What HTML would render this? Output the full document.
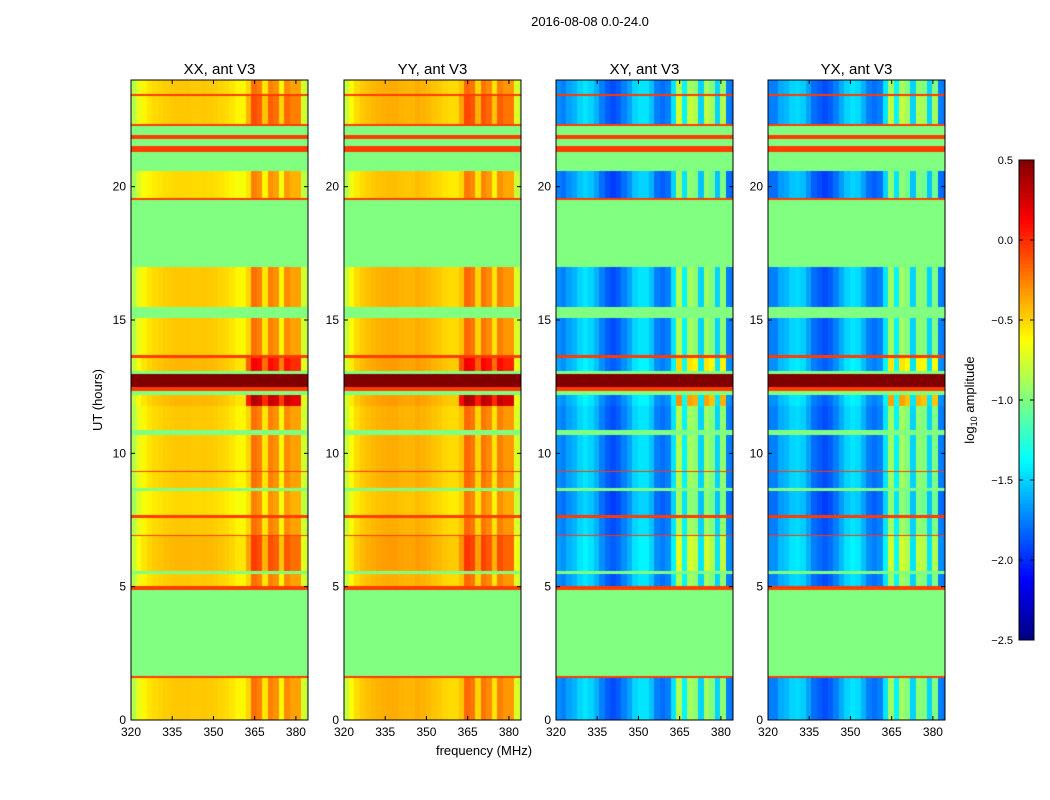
<!DOCTYPE html>
<html><head><meta charset="utf-8"><style>
body{margin:0;background:#fff;width:1050px;height:800px;overflow:hidden;font-family:"Liberation Sans",sans-serif}
svg text{font-family:"Liberation Sans",sans-serif}
</style></head><body>
<svg id="chart" width="1050" height="800" xmlns="http://www.w3.org/2000/svg">
<text x="590" y="26" font-size="13" text-anchor="middle">2016-08-08 0.0-24.0</text>
<text x="484" y="755" font-size="13" text-anchor="middle">frequency (MHz)</text>
<text x="102" y="400" font-size="13" text-anchor="middle" transform="rotate(-90 102 400)">UT (hours)</text>
<text x="974" y="400" font-size="13" text-anchor="middle" transform="rotate(-90 974 400)">log<tspan font-size="9" dy="3">10</tspan><tspan dy="-3"> amplitude</tspan></text>
<g id="panels"></g>
<g id="cbar"></g>
</svg>
<canvas id="cv" width="1050" height="800" style="position:absolute;left:0;top:0;pointer-events:none"></canvas>
<script>
const panelTitles=["XX, ant V3","YY, ant V3","XY, ant V3","YX, ant V3"];
const xTicks=[320,335,350,365,380];
const yTicks=[0,5,10,15,20];
const cbarTicks=[0.5,0.0,-0.5,-1.0,-1.5,-2.0,-2.5];
const freqBins=[320,322,324,326,328,330,332,334,336,338,340,342,344,346,348,350,352,354,356,358,360,362,364,366,368,370,372,374,376,378,380,382,384];
const profXX=[-0.85,-0.7,-0.6,-0.55,-0.52,-0.5,-0.48,-0.47,-0.46,-0.46,-0.46,-0.47,-0.47,-0.46,-0.47,-0.48,-0.5,-0.52,-0.55,-0.6,-0.6,-0.5,-0.2,-0.25,-0.55,-0.25,-0.3,-0.6,-0.28,-0.35,-0.35,-0.75,-0.85];
const profYY=[-0.8,-0.62,-0.52,-0.47,-0.44,-0.42,-0.4,-0.39,-0.38,-0.38,-0.4,-0.41,-0.41,-0.38,-0.4,-0.42,-0.45,-0.47,-0.5,-0.52,-0.52,-0.45,-0.18,-0.22,-0.5,-0.22,-0.28,-0.55,-0.25,-0.32,-0.32,-0.72,-0.85];
const profXY=[-1.7,-1.75,-1.65,-1.6,-1.5,-1.45,-1.5,-1.6,-1.75,-1.85,-1.9,-1.85,-1.75,-1.65,-1.5,-1.45,-1.45,-1.55,-1.75,-1.8,-1.75,-1.45,-0.85,-1.4,-0.9,-0.95,-1.5,-0.9,-1.0,-1.5,-0.95,-1.75,-1.8];
const profYX=[-1.75,-1.75,-1.62,-1.58,-1.5,-1.48,-1.52,-1.65,-1.8,-1.85,-1.9,-1.85,-1.75,-1.62,-1.5,-1.45,-1.48,-1.6,-1.75,-1.8,-1.75,-1.45,-0.9,-1.4,-0.9,-1.0,-1.5,-0.95,-1.0,-1.5,-1.0,-1.75,-1.8];
const segStart=[0,1.6,1.65,4.9,5.05,5.5,5.6,6.9,6.95,7.6,7.7,8.6,8.7,9.3,9.35,10.7,10.9,11.8,12.2,12.35,12.5,13.0,13.1,13.6,13.7,15.1,15.5,17.0,19.5,19.6,20.6,21.3,21.55,21.8,21.95,22.3,22.35,23.4,23.5];
const segEnd=[1.6,1.65,4.9,5.05,5.5,5.6,6.9,6.95,7.6,7.7,8.6,8.7,9.3,9.35,10.7,10.9,11.8,12.2,12.35,12.5,13.0,13.1,13.6,13.7,15.1,15.5,17.0,19.5,19.6,20.6,21.3,21.55,21.8,21.95,22.3,22.35,23.4,23.5,24];
const segKind=["d","o","f","o","d","f","d","o","d","o","d","f","d","o","d","f","d","d","f","o","r","f","d","o","d","f","d","f","o","d","f","o","f","o","f","o","d","o","d"];
const segOff=[0,0,0,0,0,0,0.05,0,0,0,-0.05,0,0,0,0,0,0,0.05,0,0,0,0,0.05,0,0,0,0,0,0,-0.05,0,0,0,0,0,0,0,0,0];
const segRfi=[0,0,0,0,0,0,0.1,0,0,0,0,0,0,0,0,0,0,0.5,0,0,0,0,0.3,0,0,0,0,0,0,0,0,0,0,0,0,0,0.1,0,0];
const profiles=[profXX,profYY,profXY,profYX];
const panelX=[131,344,556,768], PW=177, PT=80, PB=720;
const fMin=320, fMax=384.4, vMin=-2.5, vMax=0.5;
const NS="http://www.w3.org/2000/svg";
function xs(p,f){return panelX[p]+(f-fMin)/(fMax-fMin)*PW;}
function ys(h){return PB-h/24*(PB-PT);}
function jet(v){let t=(v-vMin)/(vMax-vMin);t=Math.max(0,Math.min(1,t));
 const c=x=>Math.round(255*Math.max(0,Math.min(1,x)));
 return `rgb(${c(1.5-Math.abs(4*t-3))},${c(1.5-Math.abs(4*t-2))},${c(1.5-Math.abs(4*t-1))})`;}
const ctx=document.getElementById('cv').getContext('2d');
function mk(tag,attrs,parent){const e=document.createElementNS(NS,tag);for(const k in attrs)e.setAttribute(k,attrs[k]);parent.appendChild(e);return e;}
const g=document.getElementById('panels');
for(let p=0;p<4;p++){
 const prof=profiles[p];
 for(let s=0;s<segStart.length;s++){
  const y0=Math.floor(ys(segEnd[s])), y1=Math.ceil(ys(segStart[s]));
  for(let b=0;b<freqBins.length;b++){
   const f0=freqBins[b], f1=Math.min(f0+2,fMax);
   let v;
   if(segKind[s]==="f")v=-1.0;else if(segKind[s]==="o")v=-0.05;else if(segKind[s]==="r")v=0.5;
   else{v=prof[b]+segOff[s]+(f0>=362&&f0<=380&&prof[b]>-1.2?segRfi[s]:0);}
   ctx.fillStyle=jet(v);
   const x0=Math.floor(xs(p,f0)),x1=Math.ceil(xs(p,f1));
   ctx.fillRect(x0,y0,x1-x0,y1-y0);
  }
 }
 const pg=mk('g',{},g);
 
 
 const fr=mk('rect',{x:panelX[p],y:PT,width:PW,height:PB-PT,fill:'none',stroke:'#000','stroke-width':1},pg);
 
 
 const tt=mk('text',{x:panelX[p]+PW/2,y:74,'font-size':15,'text-anchor':'middle'},pg);
 tt.textContent=panelTitles[p];
 
 
 xTicks.forEach(t=>{const x=xs(p,t);
  mk('line',{x1:x,x2:x,y1:PB,y2:PB-4,stroke:'#000'},pg);
  mk('line',{x1:x,x2:x,y1:PT,y2:PT+4,stroke:'#000'},pg);
  const l=mk('text',{x:x,y:PB+16,'font-size':12,'text-anchor':'middle'},pg);l.textContent=t;
  
  });
 yTicks.forEach(t=>{const y=ys(t);
  mk('line',{x1:panelX[p],x2:panelX[p]+4,y1:y,y2:y,stroke:'#000'},pg);
  mk('line',{x1:panelX[p]+PW,x2:panelX[p]+PW-4,y1:y,y2:y,stroke:'#000'},pg);
  const l=mk('text',{x:panelX[p]-5,y:y+4,'font-size':12,'text-anchor':'end'},pg);l.textContent=t;
  
  });
}
const cb=document.getElementById('cbar');
const CX=1019,CW=15,CT=160,CB=640;
function cy(v){return CB-(v-vMin)/(vMax-vMin)*(CB-CT);}
for(let i=0;i<120;i++){const v0=vMin+(vMax-vMin)*i/120,v1=vMin+(vMax-vMin)*(i+1)/120;
 ctx.fillStyle=jet((v0+v1)/2);ctx.fillRect(CX,Math.floor(cy(v1)),CW,Math.ceil(cy(v0))-Math.floor(cy(v1)));}
const cf=mk('rect',{x:CX,y:CT,width:CW,height:CB-CT,fill:'none',stroke:'#000'},cb);


cbarTicks.forEach(t=>{const y=cy(t);
 mk('line',{x1:CX,x2:CX+4,y1:y,y2:y,stroke:'#000'},cb);
 mk('line',{x1:CX+CW-4,x2:CX+CW,y1:y,y2:y,stroke:'#000'},cb);
 const l=mk('text',{x:CX-6,y:y+4,'font-size':11,'text-anchor':'end'},cb);l.textContent=t.toFixed(1).replace('-','\u2212');
 
 });
document.getElementById('chart').style.cssText='position:absolute;left:0;top:0;z-index:2';
</script>
</body></html>
